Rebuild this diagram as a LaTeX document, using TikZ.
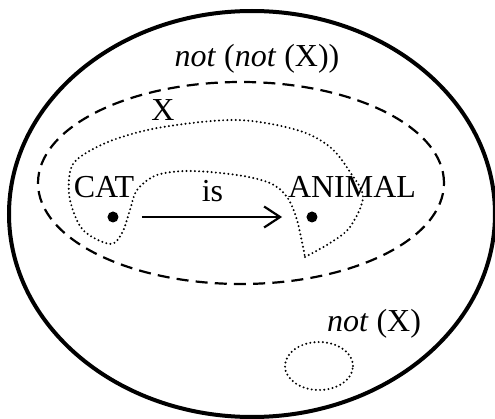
\documentclass[tikz,border=0pt]{standalone}
\usepackage{fontspec}
\setmainfont{Liberation Serif}
\usepackage{tikz}
\usetikzlibrary{arrows.meta,positioning}
\tikzset{
  lbl/.style={font=\fontsize{16}{19}\selectfont, inner sep=0pt, anchor=base},
  univ/.style={draw, line width=2pt},
  dashset/.style={draw, line width=1.1pt, dash pattern=on 6pt off 3.6pt},
  dotset/.style={draw, line width=1.1pt, line cap=round, dash pattern=on 0pt off 2.1pt},
  pt/.style={circle, fill, inner sep=0pt, minimum size=5.5pt},
  arr/.style={-{Straight Barb[length=8pt,width=10.5pt]}, line width=1.1pt}
}
\begin{document}
\begin{tikzpicture}[x=0.5pt, y=0.5pt]
\useasboundingbox (0,0) rectangle (495,419);
% outer set and double negation
\path[univ] (252,205) ellipse [x radius=243, y radius=203];
\path[dashset] (241,236) ellipse [x radius=203, y radius=101];
\node[lbl] (notnot) at (257,352) {\textit{not} (\textit{not} (X))};
% the set X
\path[dotset] plot[smooth, tension=0.55] coordinates {
  (305,162) (330,176) (350,192) (363,222) (350,247) (330,272) (297,289)
  (237,299) (163,292) (113,279) (80,262) (70,247) (70,219) (83,189)
  (110,175) (122,186) (130,209) (137,229) (157,244) (190,248) (237,244)
  (270,236) (287,222) (297,199) (305,162)};
\node[lbl] (xlbl) at (163,299) {X};
% points and the relation
\node[pt] (catpt) at (113,202) {};
\node[pt] (animalpt) at (312,202) {};
\node[lbl] (cat) at (104,221) {CAT};
\node[lbl] (animal) at (352,221) {ANIMAL};
\draw[arr, shorten <=11.5pt, shorten >=12pt] (catpt) -- (animalpt)
     node[midway, lbl, above=7pt] (is) {is};
% complement
\node[lbl] (notx) at (374,87) {\textit{not} (X)};
\path[dotset] (319,53) ellipse [x radius=34, y radius=24];
\end{tikzpicture}
\end{document}
